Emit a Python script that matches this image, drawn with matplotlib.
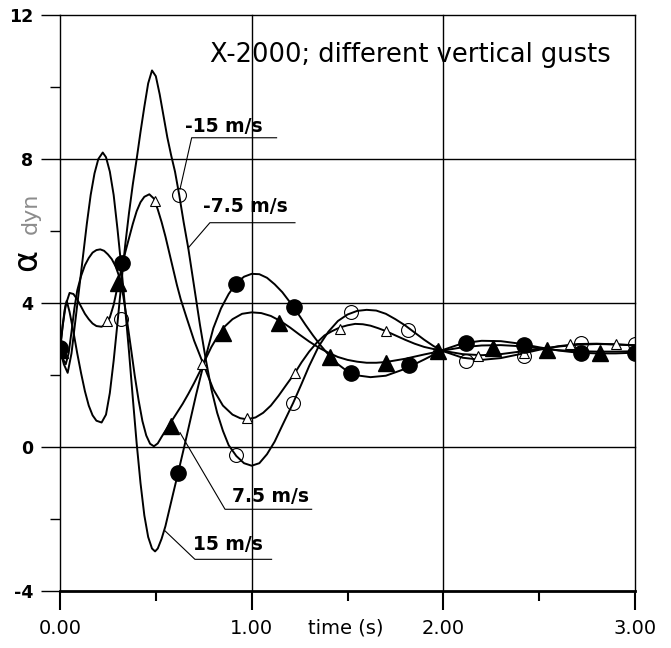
#!/usr/bin/env python3

import matplotlib
matplotlib.use("Agg")
import matplotlib.pyplot as plt
from matplotlib.ticker import FixedLocator

# Simulated angle of attack (deg) after a vertical gust, read at time t (s)
t_m15 = [0, 0.012, 0.024, 0.035, 0.05, 0.07, 0.09, 0.11, 0.13, 0.15, 0.17, 0.19,
         0.217, 0.24, 0.26, 0.28, 0.30, 0.32, 0.34, 0.36, 0.38, 0.40, 0.42, 0.44,
         0.46, 0.48, 0.50, 0.52, 0.54, 0.56, 0.58, 0.60, 0.622, 0.645, 0.67, 0.70,
         0.73, 0.76, 0.79, 0.82, 0.85, 0.88, 0.92, 0.96, 1.00, 1.04, 1.08, 1.12,
         1.16, 1.217, 1.26, 1.30, 1.35, 1.40, 1.45, 1.50, 1.55, 1.60, 1.65, 1.70,
         1.75, 1.80, 1.85, 1.90, 1.95, 2.00, 2.10, 2.20, 2.30, 2.40, 2.50, 2.60,
         2.70, 2.80, 2.90, 3.00]
a_m15 = [2.7, 3.3, 3.8, 4.06, 3.75, 3.2, 2.6, 2.05, 1.55, 1.15, 0.88, 0.73,
         0.68, 0.9, 1.5, 2.4, 3.45, 4.55, 5.6, 6.5, 7.3, 8.0, 8.75, 9.45,
         10.1, 10.46, 10.3, 9.8, 9.2, 8.6, 8.1, 7.65, 7.0, 6.25, 5.5, 4.45,
         3.4, 2.45, 1.6, 0.95, 0.45, 0.05, -0.25, -0.45, -0.52, -0.45, -0.2, 0.15,
         0.6, 1.23, 1.75, 2.25, 2.8, 3.2, 3.5, 3.68, 3.78, 3.81, 3.79, 3.7,
         3.55, 3.38, 3.18, 2.98, 2.8, 2.66, 2.48, 2.42, 2.47, 2.58, 2.7, 2.8,
         2.86, 2.87, 2.85, 2.82]

t_m75 = [0, 0.015, 0.03, 0.05, 0.07, 0.09, 0.11, 0.13, 0.15, 0.17, 0.19, 0.217,
         0.24, 0.26, 0.28, 0.30, 0.32, 0.34, 0.36, 0.38, 0.40, 0.42, 0.44, 0.466,
         0.49, 0.51, 0.53, 0.55, 0.57, 0.59, 0.61, 0.63, 0.66, 0.70, 0.748, 0.80,
         0.85, 0.90, 0.94, 0.974, 1.02, 1.06, 1.10, 1.14, 1.18, 1.226, 1.26, 1.30,
         1.34, 1.38, 1.42, 1.46, 1.50, 1.54, 1.58, 1.62, 1.66, 1.70, 1.75, 1.80,
         1.85, 1.90, 1.95, 2.00, 2.10, 2.20, 2.30, 2.40, 2.50, 2.60, 2.70, 2.80,
         2.90, 3.00]
a_m75 = [2.7, 3.4, 3.95, 4.28, 4.25, 4.1, 3.9, 3.7, 3.55, 3.43, 3.36, 3.34,
         3.42, 3.6, 3.95, 4.45, 4.95, 5.4, 5.8, 6.2, 6.55, 6.8, 6.95, 7.02,
         6.9, 6.6, 6.25, 5.85, 5.4, 4.95, 4.5, 4.1, 3.6, 2.95, 2.3, 1.6,
         1.15, 0.9, 0.8, 0.77, 0.82, 0.95, 1.15, 1.42, 1.72, 2.06, 2.35, 2.65,
         2.9, 3.1, 3.22, 3.32, 3.38, 3.42, 3.41, 3.37, 3.3, 3.22, 3.1, 2.98,
         2.87, 2.78, 2.72, 2.67, 2.58, 2.55, 2.58, 2.65, 2.72, 2.79, 2.84, 2.86,
         2.85, 2.83]

t_p75 = [0, 0.015, 0.03, 0.045, 0.06, 0.075, 0.09, 0.11, 0.13, 0.15, 0.17, 0.19,
         0.21, 0.23, 0.25, 0.27, 0.29, 0.31, 0.33, 0.35, 0.37, 0.39, 0.41, 0.43,
         0.45, 0.47, 0.49, 0.51, 0.53, 0.55, 0.58, 0.61, 0.64, 0.67, 0.70, 0.73,
         0.76, 0.79, 0.82, 0.86, 0.90, 0.95, 1.00, 1.05, 1.10, 1.15, 1.20, 1.25,
         1.30, 1.35, 1.40, 1.45, 1.50, 1.55, 1.60, 1.65, 1.70, 1.80, 1.90, 2.00,
         2.10, 2.20, 2.30, 2.40, 2.50, 2.60, 2.70, 2.80, 2.90, 3.00]
a_p75 = [2.7, 2.45, 2.3, 2.6, 3.2, 3.85, 4.35, 4.75, 5.05, 5.25, 5.4, 5.47,
         5.49, 5.45, 5.35, 5.22, 5.02, 4.72, 4.2, 3.5, 2.75, 1.98, 1.3, 0.72,
         0.32, 0.09, 0.02, 0.1, 0.28, 0.45, 0.7, 0.95, 1.2, 1.48, 1.78, 2.1,
         2.45, 2.78, 3.05, 3.35, 3.55, 3.7, 3.74, 3.72, 3.64, 3.5, 3.32, 3.12,
         2.93, 2.76, 2.62, 2.5, 2.42, 2.37, 2.34, 2.34, 2.36, 2.45, 2.57, 2.68,
         2.77, 2.82, 2.83, 2.8, 2.74, 2.69, 2.66, 2.65, 2.65, 2.66]

t_p15 = [0, 0.02, 0.04, 0.06, 0.08, 0.10, 0.12, 0.14, 0.16, 0.18, 0.20, 0.223,
         0.24, 0.26, 0.28, 0.30, 0.32, 0.34, 0.36, 0.38, 0.40, 0.42, 0.44, 0.46,
         0.48, 0.496, 0.51, 0.53, 0.55, 0.57, 0.59, 0.617, 0.65, 0.68, 0.71, 0.74,
         0.77, 0.80, 0.84, 0.88, 0.92, 0.96, 1.00, 1.04, 1.08, 1.12, 1.16, 1.20,
         1.24, 1.28, 1.32, 1.36, 1.40, 1.45, 1.50, 1.55, 1.62, 1.70, 1.80, 1.90,
         2.00, 2.10, 2.20, 2.30, 2.40, 2.50, 2.60, 2.70, 2.80, 2.90, 3.00]
a_p15 = [2.7, 2.3, 2.06, 2.6, 3.5, 4.4, 5.3, 6.2, 7.0, 7.6, 8.0, 8.18,
         8.05, 7.65, 7.0, 6.05, 5.0, 3.85, 2.65, 1.35, 0.1, -1.0, -1.9, -2.5,
         -2.82, -2.9, -2.82, -2.55, -2.2, -1.75, -1.3, -0.7, 0.05, 0.75, 1.45, 2.1,
         2.7, 3.3, 3.85, 4.25, 4.55, 4.73, 4.81, 4.8, 4.7, 4.52, 4.3, 4.02,
         3.72, 3.4, 3.1, 2.82, 2.57, 2.3, 2.1, 1.99, 1.94, 1.98, 2.17, 2.43,
         2.7, 2.88, 2.95, 2.94, 2.87, 2.77, 2.68, 2.62, 2.6, 2.6, 2.62]

# Sampled points of the same runs
pt_m15 = [0, 0.32, 0.622, 0.917, 1.217, 1.518, 1.817, 2.12, 2.42, 2.72, 3.0]
pa_m15 = [2.7, 3.55, 6.99, -0.23, 1.23, 3.76, 3.24, 2.39, 2.53, 2.9, 2.85]
pt_m75 = [0, 0.243, 0.496, 0.74, 0.974, 1.226, 1.46, 1.70, 1.96, 2.18, 2.42,
          2.66, 2.9]
pa_m75 = [2.7, 3.5, 6.83, 2.3, 0.8, 2.06, 3.28, 3.22, 2.7, 2.53, 2.6,
          2.87, 2.87]
pt_p75 = [0, 0.304, 0.579, 0.852, 1.142, 1.41, 1.70, 1.97, 2.26, 2.54, 2.82]
pa_p75 = [2.7, 4.56, 0.58, 3.18, 3.45, 2.5, 2.34, 2.67, 2.76, 2.69, 2.62]
pt_p15 = [0, 0.322, 0.617, 0.918, 1.222, 1.52, 1.82, 2.12, 2.42, 2.72, 3.0]
pa_p15 = [2.75, 5.1, -0.71, 4.52, 3.89, 2.06, 2.27, 2.9, 2.83, 2.62, 2.62]

gust_labels = ["-15 m/s", "-7.5 m/s", "7.5 m/s", "15 m/s"]
x_ticks = [0, 1, 2, 3]
x_ticklabels = ["0.00", "1.00", "2.00", "3.00"]
y_ticks = [-4, 0, 4, 8, 12]

W, H = 671, 648
fig = plt.figure(figsize=(W / 100, H / 100), dpi=100)
ax = fig.add_axes([60 / W, (H - 591) / H, 575 / W, 576 / H])

line_kw = dict(color="black", lw=1.4, zorder=3)
for t, a in [(t_m15, a_m15), (t_m75, a_m75), (t_p75, a_p75), (t_p15, a_p15)]:
    ax.plot(t, a, **line_kw)

ax.plot(pt_m15, pa_m15, ls="none", marker="o", ms=10, mfc="none",
        mec="black", mew=0.8, zorder=4)
ax.plot(pt_m75, pa_m75, ls="none", marker="^", ms=7.5, mfc="white",
        mec="black", mew=0.8, zorder=4)
ax.plot(pt_p75, pa_p75, ls="none", marker="^", ms=11, mfc="black",
        mec="black", zorder=5)
ax.plot(pt_p15, pa_p15, ls="none", marker="o", ms=11, mfc="black",
        mec="black", zorder=5)

ax.set_xlim(0, 3)
ax.set_ylim(-4, 12)

# axes frame and grid
ax.spines["left"].set_linewidth(1.0)
ax.spines["bottom"].set_linewidth(2.0)
ax.spines["top"].set_visible(False)
ax.spines["right"].set_visible(False)
for v in [0, 4, 8, 12]:
    ax.axhline(v, color="black", lw=1.0, zorder=1, clip_on=False)
for v in [1, 2, 3]:
    ax.axvline(v, color="black", lw=1.0, zorder=1, clip_on=False)

ax.xaxis.set_major_locator(FixedLocator(x_ticks))
ax.xaxis.set_minor_locator(FixedLocator([0.5, 1.5, 2.5]))
ax.yaxis.set_major_locator(FixedLocator(y_ticks))
ax.yaxis.set_minor_locator(FixedLocator([-2, 2, 6, 10]))
ax.set_xticklabels(x_ticklabels, fontsize=14)
ax.set_yticklabels([str(v) for v in y_ticks], fontsize=12.5, fontweight="bold")
ax.tick_params(axis="x", which="major", direction="out", length=14,
               width=1.5, pad=6)
ax.tick_params(axis="x", which="minor", direction="out", length=7, width=1.5)
ax.tick_params(axis="y", which="major", direction="out", length=13.5,
               width=1.0, pad=6)
ax.tick_params(axis="y", which="minor", direction="out", length=7, width=1.0)

ax.text(0.78, 10.9, "X-2000; different vertical gusts", fontsize=18.5,
        ha="left", va="center", zorder=6)

# gust labels with underline and leader
notes = [
    (gust_labels[0], (0.652, 8.91), (0.687, 1.13, 8.59), (0.626, 7.16)),
    (gust_labels[1], (0.748, 6.675), (0.782, 1.226, 6.23), (0.669, 5.53)),
    (gust_labels[2], (0.896, -1.38), (0.861, 1.313, -1.73), (0.626, 0.40)),
    (gust_labels[3], (0.692, -2.71), (0.704, 1.104, -3.12), (0.548, -2.33)),
]
for text, (tx, ty), (u0, u1, uy), (lx, ly) in notes:
    ax.text(tx, ty, text, fontsize=13.5, fontweight="bold", ha="left",
            va="center", zorder=6)
    ax.plot([lx, u0, u1], [ly, uy, uy], color="black", lw=0.8, zorder=6)

fig.text(346 / W, 1 - 628 / H, "time (s)", fontsize=14, ha="center",
         va="center")
fig.text(27 / W, 1 - 260 / H, "\u03b1", fontsize=24, rotation=90,
         ha="center", va="center")
fig.text(31 / W, 1 - 213 / H, "dyn", fontsize=16, rotation=90,
         color="#8c8c8c", ha="center", va="center")

fig.savefig("out.png", dpi=100)
